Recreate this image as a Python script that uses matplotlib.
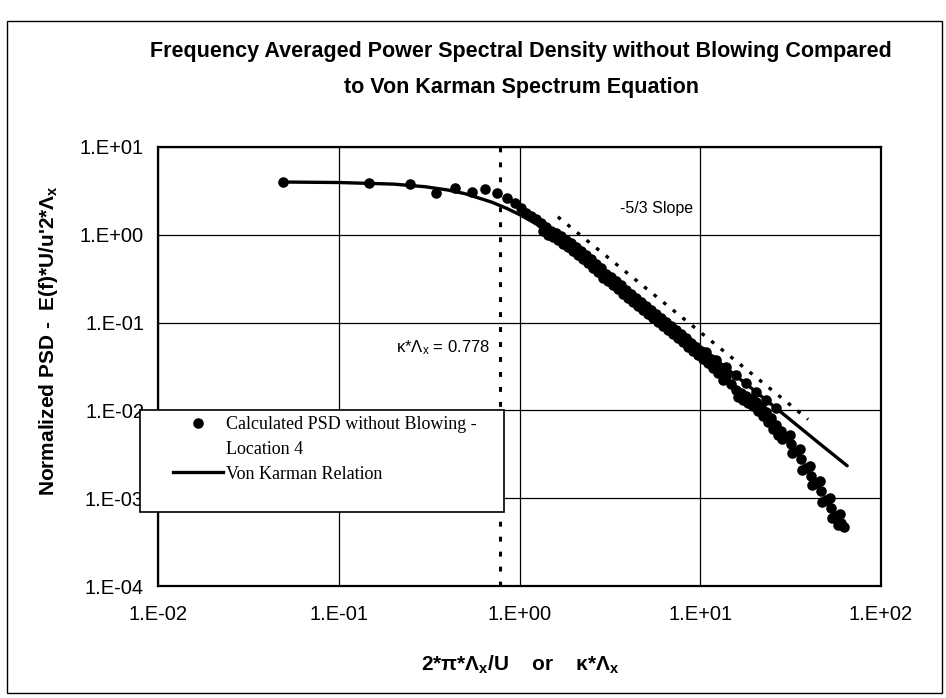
import matplotlib
matplotlib.use("Agg")
import matplotlib.pyplot as plt
from matplotlib.lines import Line2D
from matplotlib.patches import Rectangle

plt.rcParams['font.family'] = ['Liberation Sans', 'DejaVu Sans']
plt.rcParams['mathtext.fontset'] = 'custom'
plt.rcParams['mathtext.rm'] = 'Liberation Sans'
plt.rcParams['mathtext.bf'] = 'Liberation Sans:bold'
plt.rcParams['mathtext.it'] = 'Liberation Sans:italic'
plt.rcParams['mathtext.default'] = 'regular'

# calculated PSD without blowing, location 4
psd_x = [0.0492, 0.147, 0.248, 0.345, 0.440, 0.546, 0.644, 0.751, 0.853, 0.944,
         1.019, 1.086, 1.158, 1.234, 1.315, 1.402, 1.494, 1.592, 1.697, 1.808,
         1.927, 2.054, 2.189, 2.333, 2.487, 2.650, 2.824, 3.010, 3.208, 3.420,
         3.644, 3.884, 4.140, 4.412, 4.702, 5.011, 5.340, 5.692, 6.066, 6.464,
         6.889, 7.342, 7.825, 8.340, 8.887, 9.473, 10.10, 10.76, 11.47, 12.22,
         13.03, 13.88, 14.80, 15.77, 16.81, 17.91, 19.09, 20.35, 21.69, 23.11,
         24.63, 26.26, 27.98, 29.83, 31.79, 33.88, 36.11, 38.49, 41.02, 43.72,
         46.60, 49.67, 52.94, 56.42, 60.13, 62.5,
         10.76, 12.22, 13.88, 15.77, 17.91, 20.35, 23.11, 26.26,
         31.37, 35.64, 40.48, 45.98, 52.22, 59.32,
         1.438, 1.633, 1.855, 2.107, 2.393, 2.719, 3.087, 3.508, 3.984, 4.525,
         5.140, 5.838, 6.631, 7.533, 8.554, 9.718, 11.04, 12.54, 16.18, 18.38,
         20.87, 23.71, 26.93,
         1.349, 1.532, 1.741, 1.977, 2.245, 2.551, 2.897, 3.291, 3.738, 4.246,
         4.823, 5.479, 6.222, 7.068, 8.028, 9.120, 10.36, 11.77, 13.36, 17.24,
         19.58, 22.25, 25.27,
         28.34, 32.18, 36.55, 41.52, 47.17, 53.57, 57.82]
psd_y = [4.02, 3.91, 3.81, 3.01, 3.43, 3.09, 3.34, 3.01, 2.64, 2.31,
         2.03, 1.78, 1.65, 1.52, 1.37, 1.23, 1.11, 1.05, 0.974, 0.877,
         0.811, 0.730, 0.657, 0.592, 0.533, 0.467, 0.421, 0.360, 0.332, 0.299,
         0.269, 0.236, 0.213, 0.192, 0.173, 0.155, 0.140, 0.126, 0.113, 0.102,
         0.0919, 0.0828, 0.0746, 0.0671, 0.0589, 0.0530, 0.0477, 0.0430, 0.0387, 0.0340,
         0.0298, 0.0248, 0.0201, 0.0172, 0.0159, 0.0147, 0.0136, 0.0125, 0.0110, 0.00964,
         0.00823, 0.00686, 0.00586, 0.00500, 0.00417, 0.00347, 0.00281, 0.00222, 0.00180, 0.00150,
         0.00121, 0.000959, 0.000777, 0.000630, 0.000525, 0.000472,
         0.0465, 0.0377, 0.0314, 0.0254, 0.0206, 0.0163, 0.0132, 0.0107,
         0.00527, 0.00365, 0.00234, 0.00158, 0.00101, 0.000664,
         1.00, 0.877, 0.730, 0.592, 0.480, 0.379, 0.299, 0.243, 0.192, 0.155,
         0.126, 0.102, 0.0828, 0.0671, 0.0530, 0.0430, 0.0348, 0.0268, 0.0143, 0.0122,
         0.00989, 0.00742, 0.00527,
         1.11, 0.949, 0.790, 0.657, 0.533, 0.421, 0.324, 0.269, 0.213, 0.173,
         0.140, 0.113, 0.0919, 0.0746, 0.0604, 0.0477, 0.0387, 0.0306, 0.0223, 0.0132,
         0.0113, 0.00868, 0.00617,
         0.00475, 0.00329, 0.00211, 0.00142, 0.00091, 0.000598, 0.000498]

# von Karman relation
vk_x = [0.05, 0.1, 0.2, 0.3, 0.4, 0.5, 0.7, 0.85, 1.0, 1.2, 1.5, 2, 3, 5, 7,
        10, 15, 20, 30, 45, 65]
vk_y = [3.99, 3.94, 3.78, 3.53, 3.24, 2.94, 2.36, 2.00, 1.70, 1.38, 1.04, 0.695,
        0.375, 0.165, 0.095, 0.0527, 0.0269, 0.0167, 0.0085, 0.0043, 0.00234]

# -5/3 slope guide and cutoff
slope_x = [1.63, 39.5]
slope_y = [1.60, 0.0079]
cutoff_x = 0.778

x_ticks = [1e-2, 1e-1, 1e0, 1e1, 1e2]
x_labels = ['1.E-02', '1.E-01', '1.E+00', '1.E+01', '1.E+02']
y_ticks = [1e-4, 1e-3, 1e-2, 1e-1, 1e0, 1e1]
y_labels = ['1.E-04', '1.E-03', '1.E-02', '1.E-01', '1.E+00', '1.E+01']

W, H = 946, 698
fig = plt.figure(figsize=(W / 100, H / 100), dpi=100)
ax = fig.add_axes([158 / W, 1 - 586 / H, 723 / W, 439 / H])
ax.set_xscale('log')
ax.set_yscale('log')
ax.set_xlim(1e-2, 1e2)
ax.set_ylim(1e-4, 1e1)
ax.set_xticks(x_ticks, x_labels)
ax.set_yticks(y_ticks, y_labels)
ax.minorticks_off()
ax.tick_params(length=0, labelsize=14.5)
ax.tick_params(axis='x', pad=14)
ax.tick_params(axis='y', pad=10)
ax.grid(True, color='black', lw=0.9)
ax.set_axisbelow(True)
for s in ax.spines.values():
    s.set_linewidth(1.6)

ax.plot(psd_x, psd_y, 'o', color='black', ms=7.6, mew=0)
ax.plot(vk_x, vk_y, '-', color='black', lw=2.4, solid_capstyle='round')
ax.plot(slope_x, slope_y, color='black', lw=2.4, dashes=(1.1, 2.6))
ax.axvline(cutoff_x, color='black', lw=2.2, dashes=(1.6, 3.3))

fig.text(657 / W, 1 - 209 / H, '-5/3 Slope', fontsize=11.5, ha='center', va='center')
fig.text(490 / W, 1 - 348 / H, r'κ*Λ$_x$ = 0.778', fontsize=12, ha='right', va='center')

# titles and axis labels
fig.text(521 / W, 1 - 51 / H,
         'Frequency Averaged Power Spectral Density without Blowing Compared',
         ha='center', va='center', fontsize=15.5, weight='bold')
fig.text(521 / W, 1 - 88 / H, 'to Von Karman Spectrum Equation',
         ha='center', va='center', fontsize=15.5, weight='bold')
fig.text(48 / W, 1 - 341 / H, r"Normalized PSD -  E(f)*U/u'2*Λ$_\mathbf{x}$",
         rotation=90, ha='center', va='center', fontsize=15, weight='bold')
fig.text(520 / W, 1 - 665 / H, r'2*π*Λ$_\mathbf{x}$/U    or    κ*Λ$_\mathbf{x}$',
         ha='center', va='center', fontsize=15, weight='bold')

# legend box
fig.add_artist(Rectangle((140 / W, 1 - 512 / H), 364 / W, 102 / H,
                         transform=fig.transFigure, facecolor='white',
                         edgecolor='black', lw=1.2, zorder=4))
handles = [Line2D([], [], marker='o', ls='none', color='black', ms=7.6, mew=0),
           Line2D([], [], ls='none'),
           Line2D([], [], color='black', lw=2.4)]
labels = ['Calculated PSD without Blowing -', 'Location 4', 'Von Karman Relation']
fig.legend(handles, labels, loc='upper left', bbox_to_anchor=(173 / W, 1 - 416 / H),
           frameon=False, borderpad=0, borderaxespad=0, handlelength=2.77,
           handletextpad=0.17, labelspacing=0.43,
           prop={'family': 'Liberation Serif', 'size': 13})

# outer border
fig.add_artist(Rectangle((7 / W, 1 - 693 / H), 935 / W, 672 / H,
                         transform=fig.transFigure, facecolor='none',
                         edgecolor='black', lw=1.0, zorder=3))

fig.savefig('out.png', dpi=100)
